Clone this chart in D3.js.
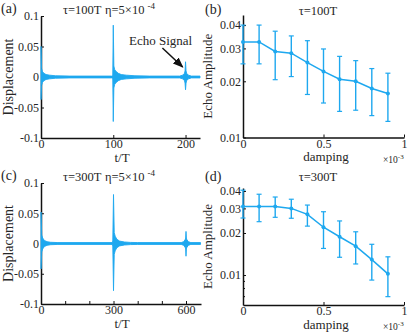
<!DOCTYPE html>
<html><head><meta charset="utf-8">
<script src="https://cdn.jsdelivr.net/npm/d3@7"></script>
<style>
body{margin:0;background:#fff}
svg{display:block}
</style>
</head><body>
<svg id="c" width="410" height="333"></svg>
<script>
// ---------- data ----------
// (a) displacement envelope, tau = 100T
const timeA  = [0, 0.8, 2, 4, 7, 12, 20, 40, 98, 99.3, 100, 100.8, 102, 104, 107, 111, 118, 130, 150, 192, 196, 198.5, 199.3, 200, 200.7, 201.5, 204, 208, 220];
const upperA = [0.05, 0.014, 0.009, 0.006, 0.004, 0.003, 0.002, 0.0015, 0.0015, 0.003, 0.085, 0.018, 0.012, 0.009, 0.006, 0.004, 0.003, 0.002, 0.0015, 0.0015, 0.003, 0.006, 0.01, 0.025, 0.01, 0.006, 0.003, 0.0015, 0.0015];
const lowerA = [-0.037, -0.014, -0.009, -0.006, -0.004, -0.003, -0.002, -0.0015, -0.0015, -0.003, -0.073, -0.018, -0.012, -0.009, -0.006, -0.004, -0.003, -0.002, -0.0015, -0.0015, -0.003, -0.006, -0.01, -0.021, -0.01, -0.006, -0.003, -0.0015, -0.0015];
// (c) displacement envelope, tau = 300T
const timeC  = [0, 3, 7, 14, 25, 40, 70, 294, 297, 300, 303, 307, 314, 325, 345, 370, 400, 580, 590, 596, 598.5, 600, 601.5, 604, 610, 620, 660];
const upperC = [0.052, 0.014, 0.009, 0.005, 0.003, 0.002, 0.0015, 0.0015, 0.004, 0.081, 0.018, 0.012, 0.007, 0.004, 0.0025, 0.0018, 0.0015, 0.0015, 0.003, 0.006, 0.009, 0.02, 0.009, 0.006, 0.003, 0.0015, 0.0015];
const lowerC = [-0.042, -0.014, -0.009, -0.005, -0.003, -0.002, -0.0015, -0.0015, -0.004, -0.078, -0.018, -0.012, -0.007, -0.004, -0.0025, -0.0018, -0.0015, -0.0015, -0.003, -0.006, -0.009, -0.021, -0.009, -0.006, -0.003, -0.0015, -0.0015];
// (b),(d) echo amplitude vs damping
const damping = [0, 0.0001, 0.0002, 0.0003, 0.0004, 0.0005, 0.0006, 0.0007, 0.0008, 0.0009];
const ampB   = [0.0325, 0.0325, 0.0289, 0.0283, 0.0252, 0.0226, 0.0205, 0.0200, 0.0183, 0.0172];
const ampBHi = [0.0400, 0.0400, 0.0371, 0.0350, 0.0330, 0.0298, 0.0272, 0.0258, 0.0234, 0.0221];
const ampBLo = [0.0248, 0.0248, 0.0204, 0.0212, 0.0170, 0.0153, 0.0138, 0.0140, 0.0131, 0.0122];
const ampD   = [0.0309, 0.0310, 0.0310, 0.0300, 0.0272, 0.0220, 0.0188, 0.0161, 0.0129, 0.0102];
const ampDHi = [0.0405, 0.0379, 0.0362, 0.0349, 0.0317, 0.0284, 0.0244, 0.0204, 0.0166, 0.0135];
const ampDLo = [0.0256, 0.0241, 0.0259, 0.0255, 0.0224, 0.0155, 0.0134, 0.0120, 0.0092, 0.0070];
// ticks
const dispTicks = [-0.1, -0.05, 0, 0.05, 0.1];
const dispTickLabels = ["-0.1", "-0.05", "0", "0.05", "0.1"];
const tTicksA = [0, 100, 200];
const tTickLabelsA = ["0", "100", "200"];
const tTicksC = [0, 100, 200, 300, 400, 500, 600];
const tTickLabelsC = ["0", "", "", "300", "", "", "600"];
const ampTicks = [0.01, 0.02, 0.03, 0.04];
const ampTickLabels = ["0.01", "0.02", "0.03", "0.04"];
const ampMinorD = [0.007, 0.008, 0.009];
const dampTicks = [0, 0.0005, 0.001];
const dampTickLabels = ["0", "0.5", "1"];

// ---------- drawing ----------
const BLUE = "#1ea8ef";
const FONT = "'Liberation Serif', 'DejaVu Serif', 'Times New Roman', serif";
const TXT = "#262626";
const svg = d3.select("#c").attr("font-family", FONT);

function txt(sel){ return sel.append("text").attr("font-family", FONT).attr("fill", TXT); }

function styleAxis(g){
  g.attr("font-family", FONT);
  g.select(".domain").attr("stroke","#111").attr("stroke-width",1.5);
  g.selectAll(".tick line").attr("stroke","#111").attr("stroke-width",1);
  g.selectAll(".tick text").attr("font-size",12).attr("fill",TXT).attr("font-family",FONT);
}

function signalPanel(o){
  const x = d3.scaleLinear().domain(o.xDomain).range([o.left, o.right]);
  const y = d3.scaleLinear().domain([-0.1, 0.1]).range([o.bottom, o.top]);
  const gy = svg.append("g").attr("transform",`translate(${o.left},0)`)
    .call(d3.axisLeft(y).tickValues(dispTicks).tickSize(-3).tickSizeOuter(0).tickPadding(2)
      .tickFormat((d,i)=>dispTickLabels[i]));
  styleAxis(gy);
  const gx = svg.append("g").attr("transform",`translate(0,${o.bottom})`)
    .call(d3.axisBottom(x).tickValues(o.xTicks).tickSize(-3).tickSizeOuter(0).tickPadding(1.5)
      .tickFormat((d,i)=>o.xLabels[i]));
  styleAxis(gx);
  const pts = o.t.map((t,i)=>({t, u:o.u[i], l:o.l[i]}));
  const area = d3.area().x(d=>x(d.t)).y0(d=>y(d.l)).y1(d=>y(d.u));
  svg.append("path").datum(pts).attr("d",area)
    .attr("fill",BLUE).attr("stroke",BLUE).attr("stroke-width",0.9).attr("stroke-linejoin","miter");
  // labels
  txt(svg).attr("transform",`translate(${o.left-28},${(o.top+o.bottom)/2}) rotate(-90)`)
    .attr("text-anchor","middle").attr("font-size",14).text("Displacement");
  txt(svg).attr("x",122).attr("y",o.bottom+24).attr("text-anchor","middle")
    .attr("font-size",13).text("t/T");
  txt(svg).attr("x",1).attr("y",o.top-3).attr("font-size",14).text(o.tag);
  const tt = txt(svg).attr("x",63).attr("y",o.top-2).attr("font-size",12.5);
  tt.append("tspan").text(o.tau);
  tt.append("tspan").attr("x",105).text("\u03b7=5\u00d710");
  tt.append("tspan").attr("dx",3).attr("dy",-5).attr("font-size",9).text("-4");
  return {x,y};
}

function ampPanel(o){
  const x = d3.scaleLinear().domain([0, 0.001]).range([o.left, o.right]);
  const y = d3.scaleLog().domain(o.yDomain).range([o.bottom, o.top]);
  const gy = svg.append("g").attr("transform",`translate(${o.left},0)`)
    .call(d3.axisLeft(y).tickValues(ampTicks).tickSize(-3).tickSizeOuter(0).tickPadding(2)
      .tickFormat((d,i)=>ampTickLabels[i]));
  styleAxis(gy);
  if (o.minor){
    gy.selectAll(".minor").data(o.minor).enter().append("line")
      .attr("x1",0).attr("x2",2).attr("y1",d=>y(d)).attr("y2",d=>y(d)).attr("stroke","#111");
  }
  const gx = svg.append("g").attr("transform",`translate(0,${o.bottom})`)
    .call(d3.axisBottom(x).tickValues(dampTicks).tickSize(-3).tickSizeOuter(0).tickPadding(1.5)
      .tickFormat((d,i)=>dampTickLabels[i]));
  styleAxis(gx);
  const pts = damping.map((d,i)=>({d, v:o.v[i], hi:o.hi[i], lo:o.lo[i]}));
  const g = svg.append("g");
  g.selectAll(".eb").data(pts).enter().append("line")
    .attr("x1",d=>x(d.d)).attr("x2",d=>x(d.d)).attr("y1",d=>y(d.hi)).attr("y2",d=>y(d.lo))
    .attr("stroke",BLUE).attr("stroke-width",1.4);
  ["hi","lo"].forEach(k=>{
    g.selectAll(".cap"+k).data(pts).enter().append("line")
      .attr("x1",d=>x(d.d)-2.5).attr("x2",d=>x(d.d)+2.5).attr("y1",d=>y(d[k])).attr("y2",d=>y(d[k]))
      .attr("stroke",BLUE).attr("stroke-width",1.2);
  });
  g.append("path").datum(pts).attr("d",d3.line().x(d=>x(d.d)).y(d=>y(d.v)))
    .attr("fill","none").attr("stroke",BLUE).attr("stroke-width",1.5);
  g.selectAll(".pt").data(pts).enter().append("circle")
    .attr("cx",d=>x(d.d)).attr("cy",d=>y(d.v)).attr("r",2).attr("fill",BLUE);
  // labels
  txt(svg).attr("transform",`translate(${o.left-31},${(o.top+o.bottom)/2}) rotate(-90)`)
    .attr("text-anchor","middle").attr("font-size",13).text("Echo Amplitude");
  txt(svg).attr("x",326).attr("y",o.bottom+23.5).attr("text-anchor","middle")
    .attr("font-size",13).text("damping");
  const ex = txt(svg).attr("x",383).attr("y",o.bottom+25).attr("font-size",9.5);
  ex.append("tspan").text("\u00d710");
  ex.append("tspan").attr("dy",-4).attr("font-size",7).text("-3");
  txt(svg).attr("x",205).attr("y",o.tagY).attr("font-size",14).text(o.tag);
  txt(svg).attr("x",318).attr("y",o.titleY).attr("text-anchor","middle").attr("font-size",12.5).text(o.tau);
}

const pa = signalPanel({left:41, right:200, top:16, bottom:138, xDomain:[0,220], xTicks:tTicksA, xLabels:tTickLabelsA,
  t:timeA, u:upperA, l:lowerA, tag:"(a)", tau:"\u03c4=100T"});
signalPanel({left:41, right:201, top:183, bottom:304, xDomain:[0,662], xTicks:tTicksC, xLabels:tTickLabelsC,
  t:timeC, u:upperC, l:lowerC, tag:"(c)", tau:"\u03c4=300T"});

ampPanel({left:243, right:404, top:15, bottom:137.5, yDomain:[0.01,0.0453], v:ampB, hi:ampBHi, lo:ampBLo,
  tag:"(b)", tagY:14, tau:"\u03c4=100T", titleY:15});
ampPanel({left:243, right:404, top:188, bottom:305, yDomain:[0.0061,0.042], v:ampD, hi:ampDHi, lo:ampDLo,
  minor:ampMinorD, tag:"(d)", tagY:181, tau:"\u03c4=300T", titleY:181});

// Echo signal annotation
svg.append("defs").append("marker").attr("id","ah").attr("viewBox","0 0 10 10").attr("refX",9).attr("refY",5)
  .attr("markerWidth",7).attr("markerHeight",7).attr("orient","auto")
  .append("path").attr("d","M0,1 L10,5 L0,9 z").attr("fill","#111");
txt(svg).attr("x",129).attr("y",45).attr("font-size",13).text("Echo Signal");
svg.append("line").attr("x1",pa.x(168)).attr("y1",48).attr("x2",pa.x(196)).attr("y2",67)
  .attr("stroke","#111").attr("stroke-width",1.5).attr("marker-end","url(#ah)");
</script>
</body></html>
